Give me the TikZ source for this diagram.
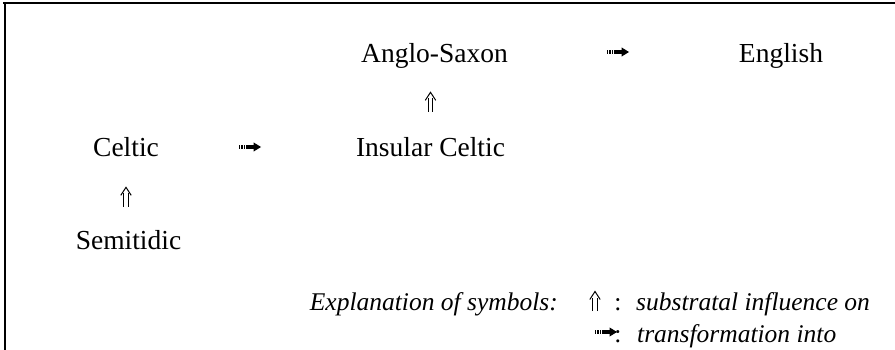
\documentclass[tikz,border=0pt]{standalone}
\usepackage{fontspec}
\setmainfont{Liberation Serif}
\usetikzlibrary{arrows.meta,decorations.markings}
\newcommand\mysubstglyph{%
    \draw[line width=1pt] (0,2.4) -- (13.5,2.4);
    \draw[line width=1pt] (0,-2.4) -- (13.5,-2.4);
    \draw[line width=1pt, line join=miter] (11.5,5.2) -- (19.5,0) -- (11.5,-5.2);}
\newcommand\mytransglyph{%
    \foreach \i in {0,1,2,3} \fill (-22+\i*1.7,-1.9) rectangle ++(0.9,3.8);
    \fill (-15.2,-2.1) rectangle (-6.5,2.1);
    \fill (-7.5,-4.6) -- (0,0) -- (-7.5,4.6) -- cycle;}
\tikzset{
  lang/.style={inner sep=0pt, anchor=base, font=\fontsize{27.5}{33}\selectfont, text height=19pt, text depth=6pt},
  legtext/.style={inner sep=0pt, font=\fontsize{25.5}{30}\selectfont\itshape},
  legcolon/.style={inner sep=0pt, anchor=base, font=\fontsize{25.5}{30}\selectfont},
  subst/.style={postaction={decorate, decoration={markings,
      mark=at position #1 with {\mysubstglyph}}}},
  trans/.style={postaction={decorate, decoration={markings,
      mark=at position #1 with {\mytransglyph}}}},
  frameline/.style={line width=1.4pt}
}
\begin{document}
\begin{tikzpicture}[x=1pt,y=-1pt]
\useasboundingbox (0,0) rectangle (895,350);
% frame
\draw[frameline] (3,3) -- (895,3);
\draw[frameline] (5,3) -- (5,350);
% languages
\node[lang] (anglo) at (434.5,63) {Anglo-Saxon};
\node[lang] (english) at (781,63) {English};
\node[lang] (insular) at (430.5,157) {Insular Celtic};
\node[lang] (celtic) at (126,157) {Celtic};
\node[lang] (semit) at (128.5,250) {Semitidic};
% substratal influence (glyph starts a fixed distance after the lower node)
\path[subst=26pt] (insular.north) -- (insular.north |- anglo.south);
\path[subst=24pt] (semit.north -| celtic.south) -- (celtic.south);
% transformation (glyph ends at given distance from the left node)
\path[trans=102pt] ([yshift=10pt]celtic.base east) -- ([yshift=10pt]insular.base west);
\path[trans=121pt] ([yshift=11pt]anglo.base east) -- ([yshift=11pt]english.base west);
% legend
\node[legtext, anchor=base east] (expl) at (558,310) {Explanation of symbols:};
\coordinate (s1a) at (595,311);
\coordinate (s1b) at (595,280);
\path[subst=0pt] (s1a) -- (s1b);
\node[legcolon] (c1) at (618,310) {:};
\node[legtext, anchor=base west] (l1) at (636,310) {substratal influence on};
\coordinate (t1a) at (590,332);
\coordinate (t1b) at (617,332);
\path[trans=27pt] (t1a) -- (t1b);
\node[legcolon] (c2) at (618,342) {:};
\node[legtext, anchor=base west] (l2) at (637,342) {transformation into};
\end{tikzpicture}
\end{document}
